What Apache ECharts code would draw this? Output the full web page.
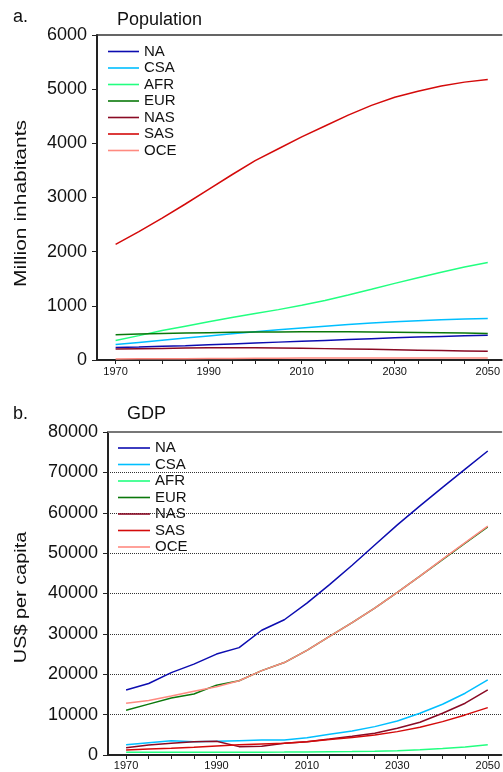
<!DOCTYPE html>
<html>
<head>
<meta charset="utf-8">
<style>html,body{margin:0;padding:0;background:#fff}#c{width:503px;height:772px}</style>
<script src="https://cdn.jsdelivr.net/npm/echarts@6/dist/echarts.min.js"></script>
</head>
<body>
<div id="c"></div>
<script>
var years = [1970,1975,1980,1985,1990,1995,2000,2005,2010,2015,2020,2025,2030,2035,2040,2045,2050];
var regions = ['NA','CSA','AFR','EUR','NAS','SAS','OCE'];
var colors = ['#0c0cb0','#00bfff','#22ff80','#0a780a','#8a0a24','#d40a0a','#ff8a80'];
var xTickValues = [1970,1975,1980,1985,1990,1995,2000,2005,2010,2015,2020,2025,2030,2035,2040,2045,2050];
var xLabelValues = [1970,1990,2010,2030,2050];

// Population (million inhabitants)
var popNA  = [230,240,253,265,280,297,314,330,345,362,378,394,410,424,436,447,455];
var popCSA = [285,325,365,405,445,485,522,558,592,625,655,683,706,726,742,755,765];
var popAFR = [362,450,545,625,705,785,860,930,1010,1100,1200,1305,1415,1520,1620,1715,1800];
var popEUR = [468,480,490,498,505,512,516,519,521,521,520,518,514,509,503,497,490];
var popNAS = [203,208,214,220,225,227,226,222,216,210,204,197,190,182,175,167,160];
var popSAS = [2135,2370,2620,2880,3150,3420,3680,3900,4120,4320,4520,4700,4850,4960,5060,5130,5180];
var popOCE = [19,21,23,25,27,29,31,33,35,36,37,38,39,39,39,39,38];

// GDP (US$ per capita)
var gdpNA  = [16100,17700,20400,22500,25000,26600,30900,33500,37600,42200,47000,52000,57000,61700,66300,70800,75300];
var gdpCSA = [2560,3060,3550,3310,3390,3550,3720,3720,4300,5130,5950,7030,8440,10340,12580,15300,18600];
var gdpAFR = [670,680,690,700,700,700,700,720,750,800,870,950,1070,1300,1600,2000,2560];
var gdpEUR = [11100,12600,14100,15100,17300,18400,20900,22900,25900,29400,32800,36400,40300,44300,48400,52500,56500];
var gdpNAS = [1820,2480,2900,3310,3390,2070,2150,2900,3310,3950,4650,5380,6620,8110,10340,12830,16130];
var gdpSAS = [1240,1490,1650,1900,2230,2560,2730,2900,3310,3850,4350,4960,5790,6870,8270,9930,11740];
var gdpOCE = [12800,13500,14600,15800,16900,18400,20900,22900,25900,29400,32800,36400,40300,44300,48500,52600,56700];

var popData = [popNA,popCSA,popAFR,popEUR,popNAS,popSAS,popOCE];
var gdpData = [gdpNA,gdpCSA,gdpAFR,gdpEUR,gdpNAS,gdpSAS,gdpOCE];

var FONT = '"Liberation Sans", Arial, Helvetica, sans-serif';

function pairs(arr){ return years.map(function(y,i){ return [y, arr[i]]; }); }
function plain(v){ return String(v); }

function bottomX(grid){
  return {
    type:'value', gridIndex:grid, min:1966, max:2053, position:'bottom',
    axisLine:{show:true, onZero:false, lineStyle:{color:'#222', width:2}},
    axisTick:{show:true, inside:false, length:4, customValues:xTickValues, lineStyle:{color:'#222', width:1}},
    axisLabel:{show:true, customValues:xLabelValues, formatter:plain, margin:grid===0?6:5, fontSize:11, color:'#111', fontFamily:FONT},
    splitLine:{show:false}
  };
}
function topX(grid, col, w){
  return {
    type:'value', gridIndex:grid, min:1966, max:2053, position:'top',
    axisLine:{show:true, onZero:false, lineStyle:{color:col, width:w}},
    axisTick:{show:false}, axisLabel:{show:false}, splitLine:{show:false}
  };
}

var series = [];
regions.forEach(function(r,i){
  series.push({name:r, type:'line', xAxisIndex:0, yAxisIndex:0, data:pairs(popData[i]),
    symbol:'none', showSymbol:false, smooth:false, lineStyle:{width:1.5, color:colors[i]}, itemStyle:{color:colors[i]}, z: 2});
  series.push({name:r, type:'line', xAxisIndex:2, yAxisIndex:1, data:pairs(gdpData[i]),
    symbol:'none', showSymbol:false, smooth:false, lineStyle:{width:1.5, color:colors[i]}, itemStyle:{color:colors[i]}, z: 2});
});

var legendCommon = {
  orient:'vertical', data:regions, itemGap:1.5, itemHeight:1.6, icon:'rect',
  textStyle:{fontSize:15, color:'#111', fontFamily:FONT}, selectedMode:false, padding:0
};

var option = {
  animation:false,
  backgroundColor:'#fff',
  grid:[
    {left:97, top:35, width:406, height:325},
    {left:108, top:432, width:395, height:323}
  ],
  xAxis:[ bottomX(0), topX(0,'#333',1.5), bottomX(1), topX(1,'#777',2) ],
  yAxis:[
    {type:'value', gridIndex:0, min:0, max:6000, interval:1000,
     axisLine:{show:true, onZero:false, lineStyle:{color:'#222', width:2}},
     axisTick:{show:true, length:5, lineStyle:{color:'#222'}},
     axisLabel:{margin:10, fontSize:18, color:'#111', fontFamily:FONT, formatter:plain},
     splitLine:{show:false}},
    {type:'value', gridIndex:1, min:0, max:80000, interval:10000,
     axisLine:{show:true, onZero:false, lineStyle:{color:'#222', width:2}},
     axisTick:{show:true, length:5, lineStyle:{color:'#222'}},
     axisLabel:{margin:10, fontSize:18, color:'#111', fontFamily:FONT, formatter:plain},
     splitLine:{show:true, lineStyle:{type:'dotted', color:'#333', width:1}}}
  ],
  legend:[
    Object.assign({left:108, top:44, itemWidth:31}, legendCommon),
    Object.assign({left:118, top:440.5, itemWidth:32}, legendCommon)
  ],
  graphic:[
    {type:'text', left:13, top:8, style:{text:'a.', font:'18px '+FONT, fill:'#111'}},
    {type:'text', left:117, top:11, style:{text:'Population', font:'18px '+FONT, fill:'#111'}},
    {type:'text', left:13, top:405, style:{text:'b.', font:'18px '+FONT, fill:'#111'}},
    {type:'text', left:127, top:405, style:{text:'GDP', font:'18px '+FONT, fill:'#111'}},
    {type:'text', x:21.5, y:203.5, rotation:Math.PI/2, scaleX:1.29,
     style:{text:'Million inhabitants', font:'16.3px '+FONT, fill:'#111', align:'center', verticalAlign:'middle'}},
    {type:'text', x:21.5, y:597.5, rotation:Math.PI/2, scaleX:1.22,
     style:{text:'US$ per capita', font:'16.3px '+FONT, fill:'#111', align:'center', verticalAlign:'middle'}}
  ],
  series:series
};

var chart = echarts.init(document.getElementById('c'), null, {renderer:'canvas'});
chart.setOption(option);
</script>
</body>
</html>
